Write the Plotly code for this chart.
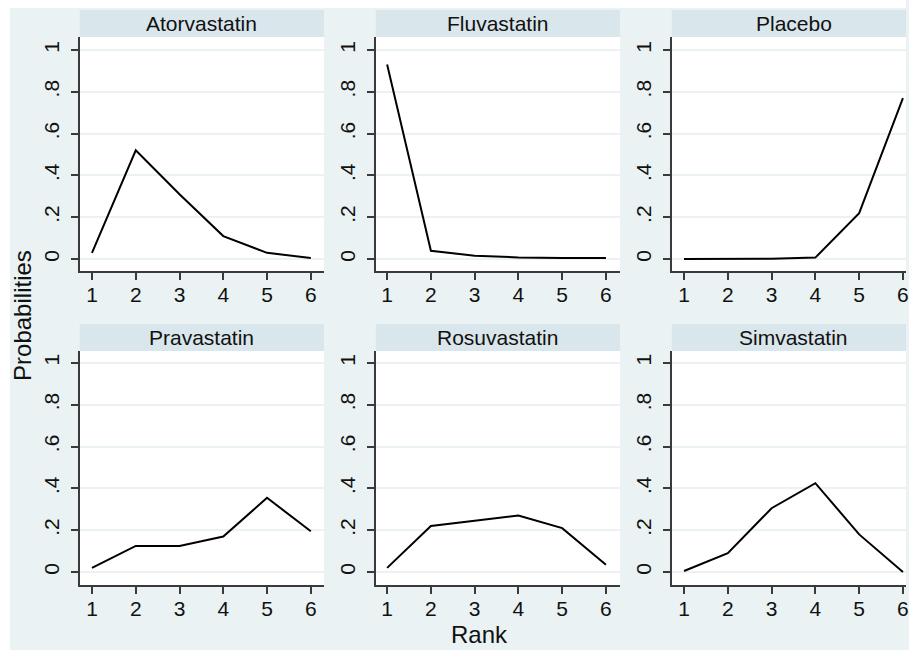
import plotly.graph_objects as go

W, H = 909, 650

treatments = ["Atorvastatin", "Fluvastatin", "Placebo",
              "Pravastatin", "Rosuvastatin", "Simvastatin"]
ranks = [1, 2, 3, 4, 5, 6]
atorvastatin = [0.03, 0.52, 0.31, 0.11, 0.03, 0.005]
fluvastatin = [0.93, 0.04, 0.016, 0.008, 0.005, 0.005]
placebo = [0.0, 0.0, 0.002, 0.007, 0.22, 0.77]
pravastatin = [0.02, 0.125, 0.125, 0.17, 0.355, 0.195]
rosuvastatin = [0.02, 0.22, 0.245, 0.27, 0.21, 0.035]
simvastatin = [0.005, 0.09, 0.305, 0.425, 0.18, 0.0]
series = [atorvastatin, fluvastatin, placebo, pravastatin, rosuvastatin, simvastatin]

y_tickvals = [0, 0.2, 0.4, 0.6, 0.8, 1]
y_ticktext = ["0", ".2", ".4", ".6", ".8", "1"]
x_tickvals = [1, 2, 3, 4, 5, 6]
x_ticktext = ["1", "2", "3", "4", "5", "6"]

FONT = "Liberation Sans, Arial, sans-serif"
BG = "#EAF2F3"
STRIP = "#D9E6EB"
AXC = "#3a3a3a"

def fx(px):
    return px / W

def fy(py):
    return 1 - py / H

cols = [(80, 325), (377, 622), (674, 909)]
rows = [(37, 271), (351, 585)]
xranges = [[0.72, 6.3], [0.74, 6.32], [0.72, 6.07]]
yranges = [[-0.057, 1.062], [-0.062, 1.057]]

fig = go.Figure()
layout = dict(
    width=W, height=H,
    margin=dict(l=0, r=0, t=0, b=0),
    paper_bgcolor=BG, plot_bgcolor="white",
    showlegend=False,
    font=dict(family=FONT, color="#111"),
)
shapes = []
annotations = []

for i, (name, vals) in enumerate(zip(treatments, series)):
    r, c = divmod(i, 3)
    n = "" if i == 0 else str(i + 1)
    fig.add_trace(go.Scatter(x=ranks, y=vals, mode="lines",
                             line=dict(color="black", width=2),
                             xaxis="x" + n, yaxis="y" + n, cliponaxis=False))
    x0, x1 = cols[c]
    y0, y1 = rows[r]
    layout["xaxis" + n] = dict(
        domain=[fx(x0), fx(x1)], range=xranges[c], anchor="y" + n,
        tickvals=x_tickvals, ticktext=x_ticktext,
        showgrid=False, zeroline=False,
        showline=True, linecolor=AXC, linewidth=1.5,
        ticks="outside", ticklen=7, tickwidth=1.5, tickcolor=AXC,
        tickfont=dict(size=21, family=FONT, color="#111"),
        ticklabelstandoff=-3, ticklabeloverflow="allow",
    )
    layout["yaxis" + n] = dict(
        domain=[fy(y1), fy(y0)], range=yranges[r], anchor="x" + n,
        tickvals=y_tickvals, ticktext=y_ticktext, tickangle=-90,
        showgrid=True, gridcolor=BG, gridwidth=1.5, zeroline=False,
        showline=True, linecolor=AXC, linewidth=1.5,
        ticks="outside", ticklen=7, tickwidth=1.5, tickcolor=AXC,
        tickfont=dict(size=21, family=FONT, color="#111"),
        ticklabelstandoff=4, ticklabeloverflow="allow",
    )
    # strip header
    shapes.append(dict(type="rect", xref="paper", yref="paper",
                       x0=fx(x0), x1=fx(x1), y0=fy(y0), y1=fy(y0 - 27),
                       fillcolor=STRIP, line=dict(width=0), layer="above"))
    annotations.append(dict(text=name, xref="paper", yref="paper",
                            x=fx((x0 + x1 + (10 if c == 2 else 0)) / 2),
                            y=fy(y0 - 13.5), showarrow=False,
                            xanchor="center", yanchor="middle",
                            font=dict(size=21, family=FONT, color="#111")))

# white outer border
for (a, b, cc, d) in [(0, 909, 0, 8), (0, 10, 0, 650)]:
    shapes.append(dict(type="rect", xref="paper", yref="paper",
                       x0=fx(a), x1=fx(b), y0=fy(d), y1=fy(cc),
                       fillcolor="white", line=dict(width=0), layer="above"))

annotations.append(dict(text="Probabilities", xref="paper", yref="paper",
                        x=fx(22), y=fy(315), showarrow=False, textangle=-90,
                        xanchor="center", yanchor="middle",
                        font=dict(size=24, family=FONT, color="#111")))
annotations.append(dict(text="Rank", xref="paper", yref="paper",
                        x=fx(481), y=fy(650), showarrow=False,
                        xanchor="center", yanchor="bottom",
                        font=dict(size=24, family=FONT, color="#111")))

layout["shapes"] = shapes
layout["annotations"] = annotations
fig.update_layout(**layout)
fig.write_html("out.html")
